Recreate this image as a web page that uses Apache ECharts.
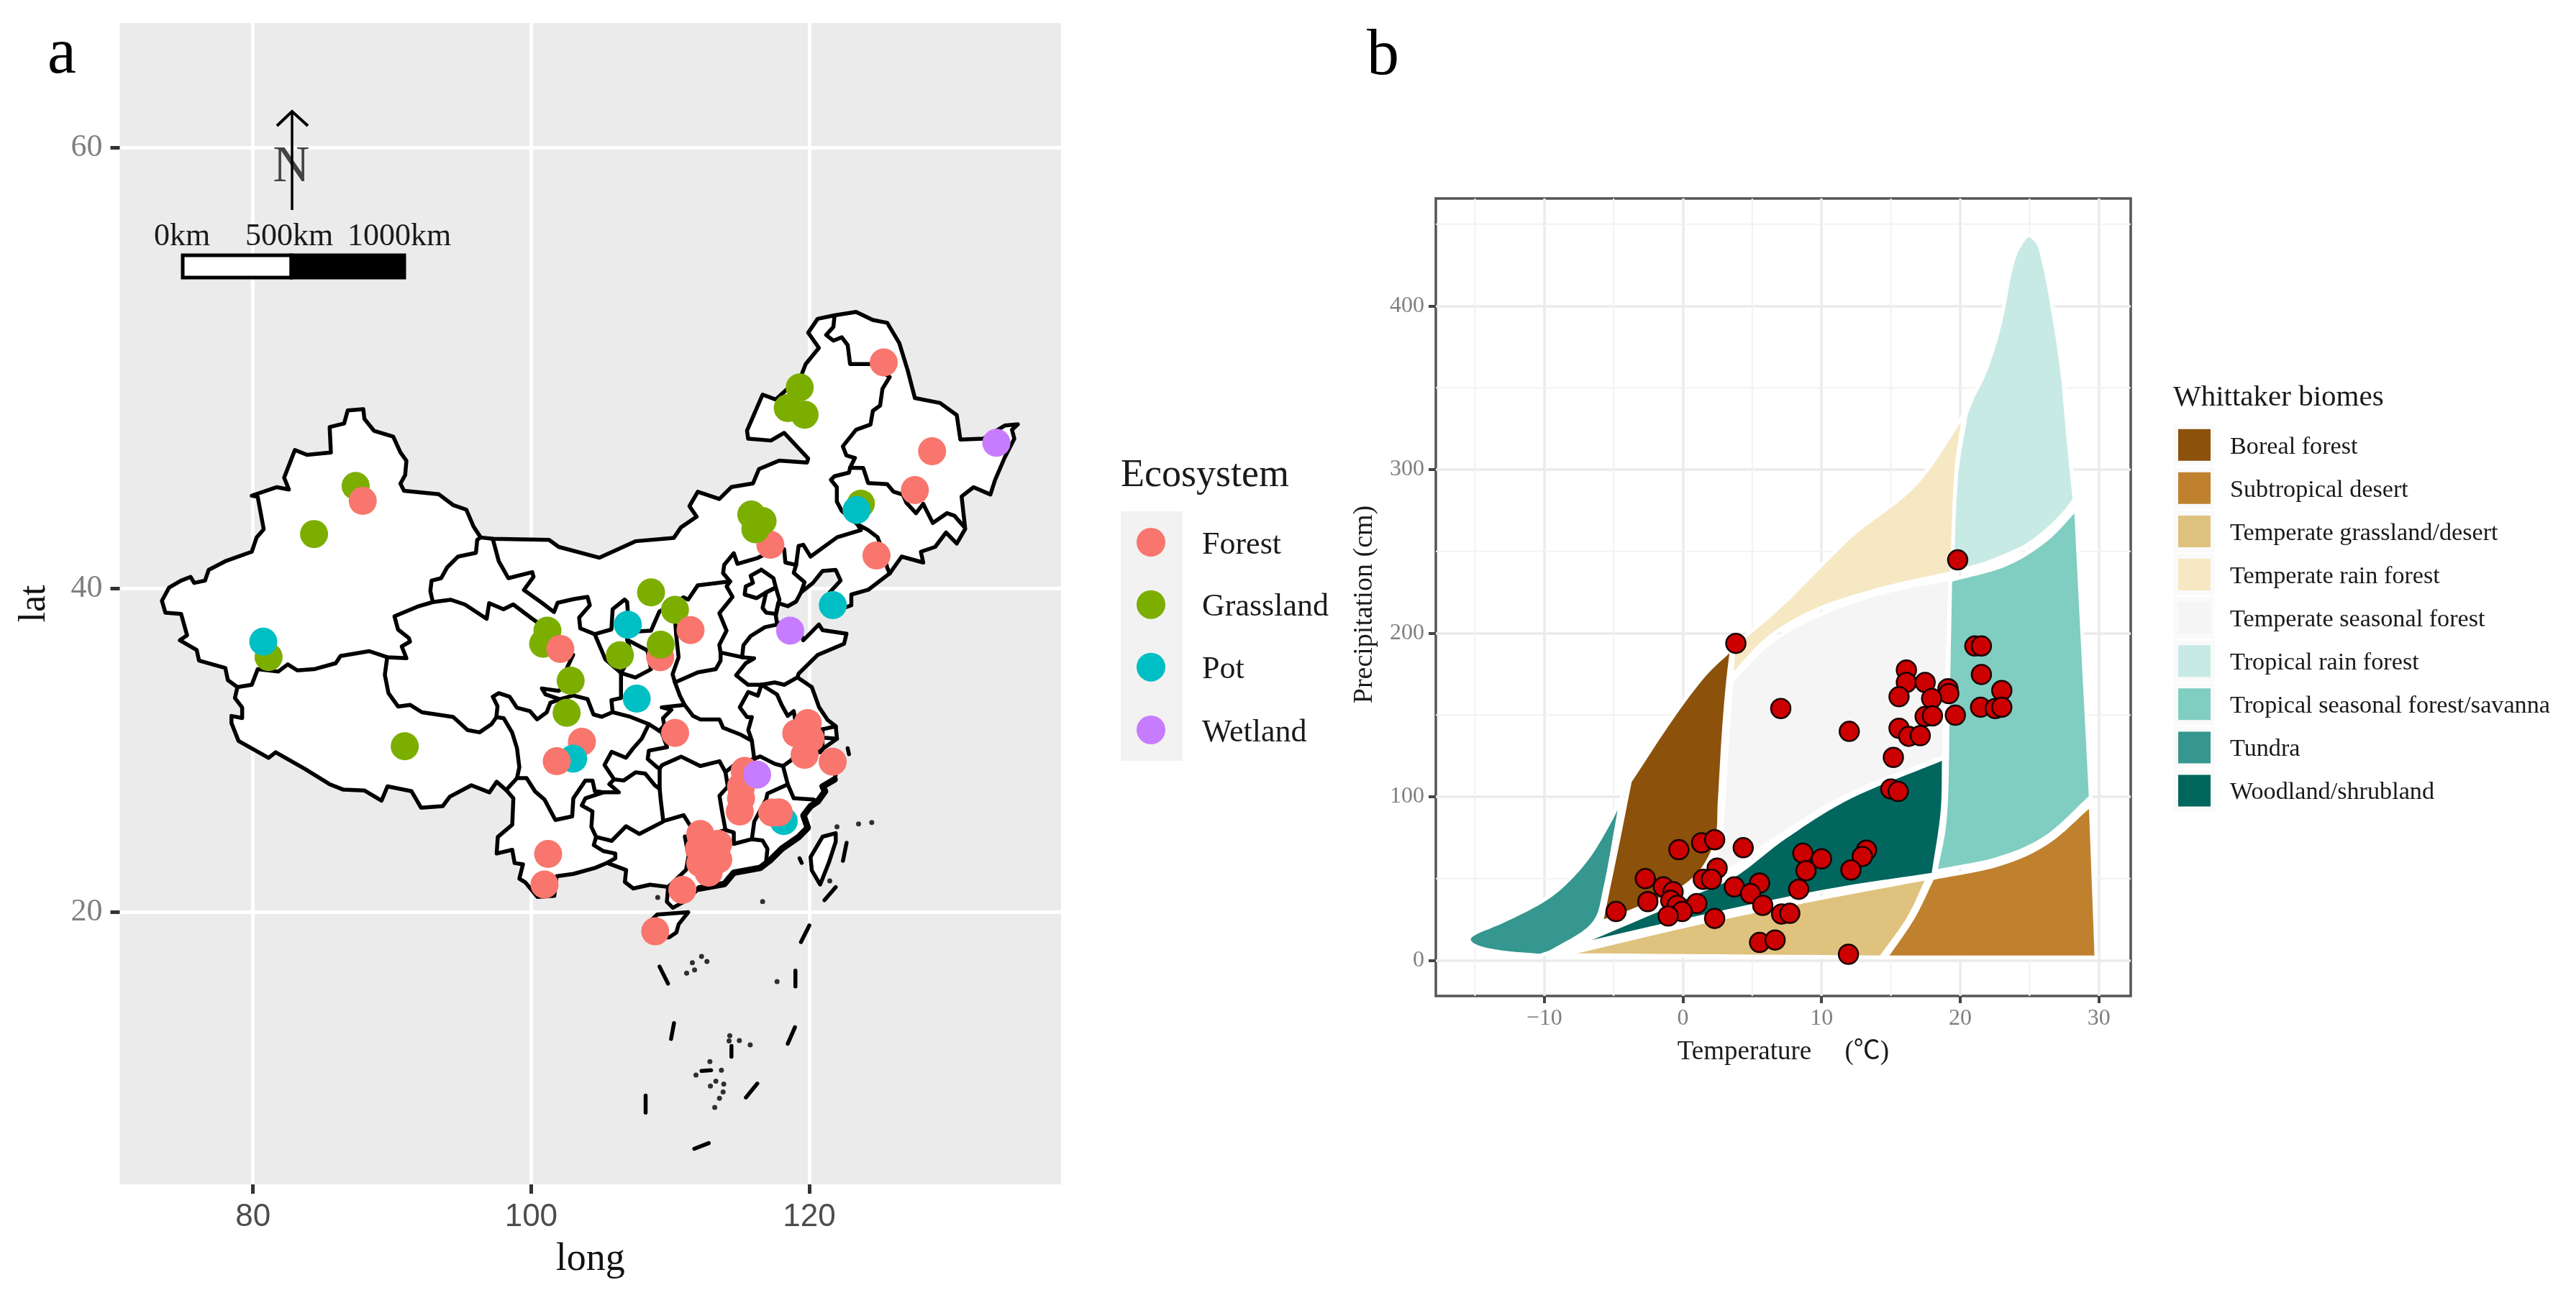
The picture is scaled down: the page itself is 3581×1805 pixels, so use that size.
<!DOCTYPE html>
<html><head><meta charset="utf-8">
<style>html,body{margin:0;padding:0;background:#fff}#c{width:3581px;height:1805px}</style>
<script src="https://cdn.jsdelivr.net/npm/echarts@6/dist/echarts.min.js"></script>
</head><body><div id="c"></div>
<script>
// ---------- Panel a: sites ----------
const ecosystemNames = ['Forest','Grassland','Pot','Wetland'];
const ecosystemColors = ['#F8766D','#7CAE00','#00BFC4','#C77CFF'];
const siteLon = [81.12,80.74,87.38,87.89,84.39,90.91,101.17,100.86,102.1,102.84,102.55,103.65,103.02,101.84,108.62,110.34,111.46,109.28,109.31,106.95,106.38,107.59,110.35,117.2,115.83,116.64,116.12,121.69,119.89,119.06,120.09,119.66,121.68,115.35,115.09,115.09,115,118.16,117.33,117.8,116.25,112.16,113.45,112.07,112.16,113.45,112.76,112.5,112.85,110.87,108.92,101.22,100.96,125.35,119.31,118.45,119.66,128.83,127.59,123.71,123.4,124.83,133.45,118.62];
const siteLat = [36.13,37.02,45.43,44.67,42.95,30.77,37.65,36.9,36.6,34.74,32.82,31.05,30,29.84,39.8,38.83,37.68,36.12,36.84,37.99,36.23,33.67,31.59,42.38,43.97,43.63,43.2,39.09,32.2,31.57,31.25,30.24,29.81,29.24,28.25,27.5,26.65,26.04,26.58,26.6,29,25.2,24.55,24.23,23.29,23.52,22.65,24.55,23.76,21.5,18.7,23.89,21.86,51.33,50.19,49.23,48.92,47.16,45.22,44.53,44.2,41.81,47.57,37.65];
const siteType = [1,2,1,0,1,1,1,1,0,1,1,0,2,0,1,1,0,0,1,2,1,2,0,0,1,1,1,2,0,0,0,0,0,0,0,0,0,2,0,0,3,0,0,0,0,0,0,0,0,0,0,0,0,0,1,1,1,0,0,1,2,0,3,3];

// ---------- Panel a: map (longitude, latitude) ----------
const chinaOutline = [[119.92,52.65],[120.6,53.25],[121.81,53.4],[123.36,53.55],[124.57,53.2],[125.6,53.08],[126.47,52.19],[127.07,50.98],[127.59,49.7],[129.4,49.47],[130.6,48.9],[130.86,47.73],[132.5,47.77],[134.05,48.4],[135,48.46],[134.57,48.2],[134.74,47.77],[134.05,46.85],[133.36,45.74],[133.02,45],[131.81,45.37],[130.95,44.9],[131.21,43.22],[130.6,42.45],[129.83,43.03],[129.05,42.27],[128.02,42.01],[128.19,41.43],[126.64,41.75],[125.78,40.84],[124.23,39.94],[123.02,39.68],[123.02,39.08],[121.73,38.73],[121.47,39.8],[122.25,40.45],[121.9,41.03],[120.95,40.97],[120.26,40.32],[119.4,39.8],[119.05,39.29],[118.45,39.03],[117.76,39.2],[117.59,38.47],[117.67,38.12],[118.3,37.95],[119.2,37.8],[119.57,37.1],[120.69,38],[120.95,37.68],[122.67,37.47],[122.5,36.9],[120.6,36.25],[119.23,35.16],[119.15,34.94],[120.18,34.36],[120.7,33.16],[121.3,32.4],[121.9,32],[121.99,31.24],[121.39,30.87],[120.6,30.4],[122.16,30.35],[121.99,29.4],[121.82,28.7],[120.96,28.25],[121.13,27.95],[120.61,27.3],[120.1,27],[119.58,26.4],[119.89,25.6],[119.23,25],[118.02,24.23],[117.16,23.45],[116.47,22.97],[114.57,22.65],[113.9,21.9],[112.08,21.6],[110.97,20.7],[110.19,20.3],[109.76,20.7],[109.85,21.7],[108.55,21.85],[107.34,21.6],[106.74,22.03],[106.83,22.83],[105.45,23.3],[104.6,22.97],[103.03,22.57],[101.83,22.41],[101.66,21.1],[100.45,21.03],[99.59,22],[99.15,22.25],[99.41,23.2],[98.81,23.29],[98.64,24.16],[97.52,23.92],[97.6,25],[98.64,25.8],[98.72,27.5],[98.2,28.03],[97.52,28.55],[97,27.88],[95.7,28.33],[94.15,27.6],[93.64,27],[92.08,26.9],[91.4,27.95],[89.67,28.26],[89.24,27.35],[88,28],[86.5,28.05],[85.5,28.4],[83.7,29.38],[81.63,30.4],[81.12,30.05],[78.96,31.1],[78.45,32.2],[78.45,32.63],[79.22,32.5],[79.22,33.14],[78.7,33.71],[78.88,34.36],[78.19,34.78],[78.01,35.49],[76.12,35.92],[75.95,36.54],[74.74,37.1],[75.26,37.38],[74.83,38.6],[73.7,38.67],[73.45,39.33],[73.96,40.06],[74.83,40.45],[75.51,40.65],[75.77,40.32],[76.55,40.45],[76.81,41.03],[78.01,41.5],[79.91,42.01],[80.26,42.77],[80.77,43.2],[80.34,44.88],[79.91,44.94],[81.72,45.37],[82.58,45.25],[82.24,45.85],[83.01,47.22],[83.88,46.98],[85.6,47.1],[85.51,48.33],[86.55,48.5],[86.81,49.12],[87.93,49.18],[88.01,48.72],[88.7,48.15],[90.08,47.87],[90.6,47.1],[91.03,46.69],[90.94,45.98],[90.6,45.55],[90.86,45.19],[93.36,45.01],[94.39,44.46],[95.34,44.22],[95.86,43.34],[96.37,42.77],[97.24,42.7],[101.29,42.64],[101.98,42.27],[104.91,41.69],[107.5,42.57],[110.26,42.75],[110.77,43.3],[111.9,43.86],[111.38,44.4],[111.98,45.14],[113.53,44.77],[114.4,45.38],[115.95,45.56],[116.38,46.28],[117.84,46.7],[119.83,46.6],[119.92,46.8],[118.19,48.05],[117.24,47.68],[115.6,47.77],[115.52,48.16],[116.64,49.86],[117.59,49.63],[119.4,50.7],[119.74,51.26],[120.69,51.98]];
const southCoast = [[121.82,28.7],[120.96,28.25],[121.13,27.95],[120.61,27.3],[120.1,27],[119.58,26.4],[119.89,25.6],[119.23,25],[118.02,24.23],[117.16,23.45],[116.47,22.97],[114.57,22.65],[113.9,21.9],[112.08,21.6]];
const provinceLines = [
 [[96.37,42.77],[96.12,42.64],[96.03,41.95],[94.74,41.75],[93.96,41.17],[93.53,40.58],[92.84,40.45],[92.75,39.87],[92.93,39.26],[91.81,39],[90.17,38.46],[90.43,37.71],[91.2,37.23],[91.29,37.02],[90.69,36.75],[91.03,36.06],[89.65,36.12],[88.36,36.47],[86.29,36.19],[85.95,35.77],[84.39,35.42],[83.19,35.35],[82.5,35.7],[81.81,35.28],[80.34,35.42],[79.91,34.5],[78.88,34.36]],
 [[97.24,42.7],[97.67,41.5],[98.36,40.58],[100.08,40.91],[100.17,40.65],[99.48,39.93],[100.77,39.22],[101.64,38.7],[101.9,39.22],[103.02,39.42],[104.05,39.55],[104.22,39.08],[103.45,38.39],[103.53,37.78],[104.57,37.45],[105.77,37.72],[105.86,38.86],[106.72,39.4],[106.9,39.26],[107.02,38],[106.9,37.13],[107.24,36.26],[106.46,35.2],[105.34,35.99],[104.57,37.45]],
 [[92.93,39.26],[94.22,39.39],[95.25,39.12],[96.8,38.32],[96.98,39.2],[98.01,38.86],[98.71,39.13],[100.08,38.32],[101.29,37.65],[102.33,36.4],[103.02,36.26],[102.58,35.5],[102.41,34.42],[101.98,34.14],[100.77,34.28],[101.03,33.93],[102.07,33.64],[101.38,33.42],[101.12,32.85],[100.43,32.42],[99.91,32.92],[98.97,33.13],[98.45,33.79],[97.67,34],[97.24,33.79],[97.58,33.22],[97.5,32.56]],
 [[89.65,36.12],[89.48,35.09],[89.74,34],[90.43,33.2],[91.29,33.3],[92.15,32.85],[94.39,32.57],[95.43,31.77],[96.29,31.63],[97.15,32.13],[97.5,32.56],[98.03,32.49],[98.63,31.62],[98.98,30.66],[99.15,29.47],[98.98,28.78],[98.2,28.03]],
 [[102.07,33.64],[103.02,33.86],[104.05,33.65],[104.48,32.72],[105.08,32.58],[105.86,32.86],[107.15,32.57],[108.46,32.13],[109.22,31.72]],
 [[98.98,28.78],[99.67,28.78],[100.27,27.95],[100.96,27.42],[101.74,26.11],[102.95,26.34],[103.03,27.49],[103.9,28.63],[104.41,28.63],[104.58,27.95],[105.19,27.88],[106.31,27.88],[105.62,28.4],[105.96,28.7]],
 [[108.46,32.13],[107.95,31.24],[107.34,30.65],[106.82,30.06],[105.79,30.43],[105.27,29.61],[105.96,28.7],[106.65,28.63],[107.51,29.15],[108.2,29.07],[108.89,28.33],[109.24,28.1],[109.24,29.38],[109.07,29.46],[108.38,29.98],[108.46,30.5],[109.77,30.72],[109.33,31.76],[109.22,31.72]],
 [[105.19,27.88],[103.9,27.5],[103.64,27.04],[104.41,26.66],[104.33,25.66],[104.67,25],[105.79,24.75],[106.82,25.7],[107.77,25.2],[109.41,25.96],[109.5,26.03],[109.32,27.36],[109.24,28.1]],
 [[104.67,25],[104.5,24.47],[105.19,24.08],[106.05,23.92],[106.05,23.6],[105.45,23.3]],
 [[109.5,26.03],[110.96,26.42],[111.39,25.8],[112,24.9],[111.05,25.03],[111.32,23.77],[111.14,22.84],[109.85,21.7]],
 [[112,24.9],[113.97,25.46],[114.57,25.3],[114.57,24.55],[115.87,24.86],[116.64,24.77],[116.99,24.23],[116.9,23.45],[117.16,23.45]],
 [[109.24,29.38],[109.41,29.6],[110.78,30.13],[112.16,29.54],[113.54,29.84],[113.97,29.16],[114.14,28.25],[113.54,27.66],[113.71,26.73],[113.97,25.46]],
 [[113.97,29.16],[114.6,29.6],[116.04,29.99],[116.47,30.14],[117.51,29.68],[118.11,29.54],[118.45,28.39],[116.99,27.8],[116.9,27.43],[116.04,26],[115.87,24.86]],
 [[118.45,28.39],[118.88,27.5],[120.26,27.43],[120.61,27.3]],
 [[116.56,34.5],[116.3,33.85],[115.61,34.07],[115,33.15],[115.52,32.56],[115.87,32.56],[115.61,31.77],[115.87,31.11],[116.04,29.99]],
 [[116.56,34.5],[117.68,33.92],[118.02,33.28],[118.45,32.63],[118.88,32.92],[119.14,31.63],[119.49,30.95],[118.71,29.91],[118.11,29.54]],
 [[119.49,30.95],[120.95,31.3],[121.99,31.24]],
 [[120.95,31.82],[120.95,30.87]],
 [[120.95,31.82],[121.9,32]],
 [[109.22,31.72],[109.57,32.06],[109.48,32.49],[110.08,33],[109.39,33.15],[111.03,33.3],[111.64,32.63],[112.16,32.42],[113.54,32.42],[113.8,31.91],[115.09,31.48],[115.87,31.11]],
 [[111.03,33.3],[110.69,33.86],[110.34,34.64],[110.17,35.13],[110.6,36.12],[110.43,37.38],[110.34,38.33],[110.95,39.52]],
 [[105.86,32.86],[105.77,33.58],[106.46,33.71],[106.46,35.2],[107.5,34.93],[108.62,35.42],[108.36,36.51],[106.9,37.13]],
 [[107.02,37.58],[108.62,37.65],[109.22,38.73],[110.95,39.52],[111.29,39.4],[111.98,40.19],[114.3,40.4]],
 [[114.3,40.4],[113.8,40.86],[113.88,41.3],[114.57,41.93],[114.83,41.36],[116.3,41.68],[117.16,42.01],[118.19,42.14],[118.28,41.43],[119.05,41.3],[119.23,42.32],[119.57,42.38],[120.09,41.75],[122,42.78],[123.71,43.16],[123.45,43.47],[122.33,44.16],[121.98,44.64],[121.98,45.37],[121.55,45.74],[121.81,45.92],[122.85,46.1],[122.93,46.34],[123.28,46.83],[122.67,46.95],[122.41,47.4],[123.36,48.2],[124.4,48.45],[124.57,49.1],[125.09,49.35],[125.26,50.13],[125.78,50.67],[124.4,51.26],[122.93,51.26],[122.76,52.1],[122.33,52.45],[121.73,52.3],[121.21,52.55],[121.73,52.9],[121.81,53.36]],
 [[122.93,46.34],[123.88,46.33],[124.23,45.58],[125.6,45.52],[126.04,45.15],[126.73,44.99],[126.98,44.58],[127.67,44.04],[128.19,44.52],[128.88,43.53],[129.9,44.04],[130.43,43.91],[131.12,43.34]],
 [[123.45,43.47],[124.23,43.16],[124.91,42.78],[125.35,41.9],[125.6,41.15],[125.78,40.84]],
 [[119.05,41.3],[118.88,40.87],[119.66,40.36],[119.4,39.8]],
 [[114.3,40.4],[114.05,40.13],[114.48,39.55],[113.53,38.64],[114.05,37.65],[113.53,36.83],[113.62,36.39],[113.62,35.92],[113.27,35.42],[111.98,35.23],[110.34,34.64]],
 [[116.55,41.04],[117.42,40.58],[117.59,40.07],[116.9,39.8],[116.21,39.48],[115.35,39.68],[115.43,40.13],[115.95,40.32],[115.78,40.71],[116.55,41.04]],
 [[116.9,39.8],[117.59,40.07],[117.85,39.4],[117.59,38.6],[116.9,38.67],[116.64,38.93],[116.9,39.8]],
 [[113.62,36.39],[115.17,36.12],[115.26,36.81],[115.78,37.34],[116.81,37.85],[117.67,37.99],[117.67,38.12]],
 [[115.17,36.12],[116.03,36.05],[115.43,35.77],[114.74,35.06],[115.6,34.5],[116.56,34.5]],
 [[116.56,34.5],[117.51,34.64],[118.2,34.5],[119.15,34.94]]
];
const hainanIsland = [[109.06,19.84],[111.3,20],[110.61,19.19],[110.44,18.62],[109.92,18.29],[108.89,18.29],[108.11,18.95]];
const taiwanIsland = [[120.95,25.02],[121.9,25.25],[121.9,24.7],[121.39,23.28],[120.78,21.86],[120.18,22.8],[120.09,23.68]];
const islandDashes = [
 [[122.68,24.62],[122.42,23.44]],[[121.9,21.69],[121.09,20.81]],[[120,19.1],[119.4,17.97]],[[119,16],[119,14.9]],
 [[118.97,12.05],[118.45,10.88]],[[116.26,8.05],[115.44,7.06]],[[112.77,3.79],[111.73,3.38]],[[108.23,7.2],[108.23,5.97]],
 [[110.27,12.34],[110.06,11.22]],[[109.23,16.28],[109.84,15.1]],[[114.4,10.72],[114.4,9.96]],[[112.25,8.95],[112.94,9]],
 [[122.76,30.65],[122.85,30.28]],[[119.3,23.6],[119.45,23.3]]
];
const islandDots = [[121.99,25.66],[123.54,25.85],[124.49,25.95],[121.47,22.1],[116.64,20.72],[117.68,15.24],[112.25,16.98],[112.64,16.64],[111.59,16.55],[111.75,16.05],[111.18,15.82],[114.28,11.45],[114.23,11.08],[114.97,11.1],[115.75,10.8],[112.85,9.62],[111.85,8.66],[113.68,9],[113.28,8.22],[112.89,7.88],[113.85,8.02],[113.8,7.45],[113.54,7],[113.2,6.35],[109.1,21]];
const longTicks = [80,100,120];
const latTicks = [20,40,60];

// ---------- Panel b: biomes (temperature degC, precipitation cm) ----------
const biomeNames = ['Boreal forest','Subtropical desert','Temperate grassland/desert','Temperate rain forest','Temperate seasonal forest','Tropical rain forest','Tropical seasonal forest/savanna','Tundra','Woodland/shrubland'];
const biomeColors = ['#8C510A','#BF812D','#DFC27D','#F6E8C3','#F5F5F5','#C7EAE5','#80CDC1','#35978F','#01665E'];
const borealForest = [[3.53,190.7],[1.47,173.7],[-0.88,147.2],[-3.82,109.4],[-4.71,71.5],[-5.88,23.5],[-3.24,31.8],[-0.29,43.1],[1.47,56.4],[2.47,75.3],[2.65,98],[2.94,139.6],[3.24,169.9]];
const subtropicalDesert = [[18,50.3],[22.65,58.3],[26.18,71.5],[29.41,95],[29.82,1.9],[14.65,1.9],[16.59,26.1]];
const temperateGrassland = [[-8.65,3.4],[1.47,23.5],[10.29,38.6],[17.65,50.3],[16.29,26.1],[14.29,1.9]];
const temperateRainForest = [[3.65,191.9],[7.35,219.1],[12.06,258.8],[16.76,291],[20.29,333.8],[19.71,298.6],[19.41,236.9],[14.41,227.4],[9.71,214.6],[6.18,197.2],[3.53,173.7]];
const temperateSeasonal = [[19.29,233.1],[14.41,224.8],[9.71,210.8],[6.18,193.4],[3.53,170.7],[3.24,139.6],[2.94,98],[2.65,73.4],[1.76,54.5],[0.29,45],[3.53,56.4],[7.35,78.3],[12.06,101.8],[18.82,124.5]];
const tropicalRainForest = [[20.88,344],[21.35,351.6],[21.76,359.1],[22.24,370.5],[22.65,381.8],[23.12,398.9],[23.53,417.8],[23.94,431],[24.41,438.6],[24.76,442.4],[25,443.1],[25.29,441.6],[25.71,436.7],[26.06,425.4],[26.47,408.3],[26.76,393.2],[27.06,378],[27.41,355.3],[27.65,332.6],[27.94,306.2],[28.24,281.6],[27.35,272.1],[26.18,262.6],[24.82,253.9],[23.24,247.5],[21.47,241.8],[19.41,237.3],[19.71,294.8],[20.41,333.8]];
const tropicalSavanna = [[19.29,232.4],[23.24,241.8],[26.18,257],[28.35,275.9],[28.82,196.4],[29.41,99.9],[26.18,75.3],[22.65,62.1],[18.24,54.5],[18.94,90.4],[19.12,158.6]];
const tundra = [[-4.41,99.9],[-5.29,84.8],[-6.76,64],[-8.53,46.9],[-10.29,35.6],[-12.94,24.2],[-15,16.7],[-15.41,12.1],[-14.7,7.9],[-12.94,4.9],[-10.29,3],[-9.12,7.2],[-6.47,22.3],[-5.59,45]];
const woodlandShrubland = [[18.82,123.7],[12.06,99.9],[7.35,75.3],[3.82,52.6],[0.88,41.2],[-2.06,29.9],[-7.94,8.7],[1.47,26.9],[10.29,42.4],[18.06,52.6],[18.71,90.4]];
const biomePolygons = [borealForest,subtropicalDesert,temperateGrassland,temperateRainForest,temperateSeasonal,tropicalRainForest,tropicalSavanna,tundra,woodlandShrubland];
// vertices of each polygon that are sharp corners; the outline is a smooth curve between them
const biomeCorners = [[0,3,5],[0,3,4,5],[0,3,5],[0,4,6,10],[0,4,9,13],[0,20,26,28],[0,3,5,8],[0,10],[0,6,9]];

const siteTemperature = [19.82,3.82,21.06,21.53,21.53,16.12,16.12,17.47,19.12,19.18,15.59,17.94,23,21.47,22.53,23,7.06,17.47,18,19.65,12,15.59,16.29,17.12,15.18,15,15.53,1.35,2.29,-0.29,4.35,2.47,1.47,2.06,8.65,10,8.88,13.24,12.94,12.12,5.53,3.71,4.88,8.35,5.76,-2.71,-1.41,-0.71,-0.88,-2.53,-0.41,1,-0.06,-1.06,-4.82,2.29,7.12,7.71,5.53,6.65,11.94];
const sitePrecipitation = [244.8,193.8,192.2,192.2,174.8,177.5,169.9,169.9,166.1,163.1,161.2,160.1,165,154.8,154,154.8,154,149.1,149.5,149.9,140,141.9,137,137.4,124.1,104.8,103.3,71.9,73.8,67.7,68.9,56.4,49.6,49.6,65.5,62.1,54.9,67.4,63.6,55.3,47.3,45,40.9,43.5,33.7,50,45,42,36.7,36,33.7,34.8,29.9,27.2,29.9,25.7,28.4,28.8,11,12.5,3.8];
const tempTicks = [-10,0,10,20,30];
const precipTicks = [0,100,200,300,400];
const tempMinor = [-15,-5,5,15,25];
const precipMinor = [50,150,250,350,450];

const serif = '"Liberation Serif","Noto Sans CJK SC",serif';
const merc = lat => Math.log(Math.tan(Math.PI/4 + lat*Math.PI/360));
const invMerc = m => (2*Math.atan(Math.exp(m)) - Math.PI/2)*180/Math.PI;
const P = p => [p[0], merc(p[1])];

function shapeSeries(list, gridIdx, style, isPoly, project, z){
  return {type:'custom', coordinateSystem:'cartesian2d', xAxisIndex:gridIdx, yAxisIndex:gridIdx, z, clip:false, silent:true,
    data:list.map((_,i)=>[list[i][0][0], project(list[i][0])[1]]),
    renderItem(params,api){
      const pts=list[params.dataIndex].map(p=>api.coord(project(p)));
      return {type:isPoly?'polygon':'polyline', shape:{points:pts}, style:Object.assign({lineJoin:'round',lineCap:'round'},style,isPoly?{}:{fill:null})};
    }};
}
// smooth closed outline that stays sharp at the listed corner vertices
function smoothRing(pts, corners){
  const out=[], n=pts.length, m=corners.length;
  for(let k=0;k<m;k++){
    const seg=[]; let i=corners[k]; const end=corners[(k+1)%m];
    seg.push(pts[i]);
    do { i=(i+1)%n; seg.push(pts[i]); } while(i!==end);
    for(let j=0;j<seg.length-1;j++){
      const p1=seg[j],p2=seg[j+1];
      const p0=seg[j-1]||[2*p1[0]-p2[0],2*p1[1]-p2[1]];
      const p3=seg[j+2]||[2*p2[0]-p1[0],2*p2[1]-p1[1]];
      for(let s=0;s<10;s++){
        const t=s/10,t2=t*t,t3=t2*t;
        out.push([0,1].map(d=>0.5*(2*p1[d]+(p2[d]-p0[d])*t+(2*p0[d]-5*p1[d]+4*p2[d]-p3[d])*t2+(3*p1[d]-p0[d]-3*p2[d]+p3[d])*t3)));
      }
    }
  }
  return out;
}
function minorGrid(values, vertical){
  return {type:'custom', coordinateSystem:'cartesian2d', xAxisIndex:1, yAxisIndex:1, z:1, silent:true, clip:true,
    data:values.map(v=>vertical?[v,0]:[0,v]),
    renderItem(params,api){
      const c=params.coordSys, v=values[params.dataIndex];
      const pt=vertical?api.coord([v,0]):api.coord([0,v]);
      const sh=vertical?{x1:pt[0],y1:c.y,x2:pt[0],y2:c.y+c.height}:{x1:c.x,y1:pt[1],x2:c.x+c.width,y2:pt[1]};
      return {type:'line',shape:sh,style:{stroke:'#f2f2f2',lineWidth:2}};
    }};
}
const T=(text,x,y,size,o={})=>({type:'text',z:50,style:Object.assign({text,x,y,font:size+'px '+serif,fill:'#1a1a1a',align:'left',verticalAlign:'middle'},o)});

const graphic=[
  T('a',66,122,90,{verticalAlign:'bottom',fill:'#000',lineHeight:90}),
  T('b',1900,124,90,{verticalAlign:'bottom',fill:'#000',lineHeight:90}),
  // north arrow
  T('N',405,233,71,{align:'center',fill:'#444'}),
  {type:'polyline',z:51,shape:{points:[[406,292],[406,156]]},style:{stroke:'#000',lineWidth:3.5,fill:null}},
  {type:'polyline',z:51,shape:{points:[[385,175],[406,155],[428,175]]},style:{stroke:'#000',lineWidth:4,fill:null}},
  // scale bar
  T('0km',253,329,44,{align:'center'}),T('500km',402,329,44,{align:'center'}),T('1000km',555,329,44,{align:'center'}),
  {type:'rect',z:50,shape:{x:254,y:355,width:151,height:31},style:{fill:'#fff',stroke:'#000',lineWidth:5}},
  {type:'rect',z:50,shape:{x:405,y:355,width:157,height:31},style:{fill:'#000',stroke:'#000',lineWidth:5}},
  // legend a
  T('Ecosystem',1558,662,54),
  {type:'rect',z:49,shape:{x:1558,y:711,width:86,height:347},style:{fill:'#f2f2f2'}}
];
ecosystemNames.forEach((n,i)=>{
  const y=[754,840.7,927.7,1015][i];
  graphic.push({type:'circle',z:50,shape:{cx:1600,cy:y,r:20},style:{fill:ecosystemColors[i]}});
  graphic.push(T(n,1671,y+4,44));
});
graphic.push(T('Whittaker biomes',3021,553,41));
biomeNames.forEach((n,i)=>{
  const y=618.7+60.1*i;
  graphic.push({type:'rect',z:49,shape:{x:3021,y:y-29,width:58,height:58},style:{fill:'#fafafa'}});
  graphic.push({type:'rect',z:50,shape:{x:3028,y:y-22,width:45,height:44},style:{fill:biomeColors[i]}});
  graphic.push(T(n,3100,y+3,34.2));
});

const option={
  backgroundColor:'#fff',animation:false,
  textStyle:{fontFamily:serif},
  graphic,
  grid:[
    {left:166.5,top:32,width:1308.5,height:1615,show:true,backgroundColor:'#ebebeb',borderWidth:0},
    {left:1996,top:276,width:966,height:1109,show:true,backgroundColor:'#fff',borderColor:'#555',borderWidth:3.5}
  ],
  xAxis:[
    {gridIndex:0,type:'value',min:70.42,max:138.1,name:'long',nameLocation:'middle',nameGap:78,
     nameTextStyle:{fontFamily:serif,fontSize:54,color:'#111'},
     axisLine:{show:false,onZero:false},
     axisTick:{show:true,length:13,customValues:longTicks,lineStyle:{color:'#333',width:5}},
     axisLabel:{customValues:longTicks,margin:24,fontFamily:'"Liberation Sans",sans-serif',fontSize:44,color:'#4d4d4d'},
     splitLine:{show:true,lineStyle:{color:'#fff',width:5}}},
    {gridIndex:1,type:'value',min:-17.82,max:32.3,name:'Temperature     (℃)',nameLocation:'middle',nameGap:60,
     nameTextStyle:{fontFamily:serif,fontSize:37,color:'#1a1a1a'},
     axisLine:{show:false,onZero:false},
     axisTick:{show:true,length:10,customValues:tempTicks,lineStyle:{color:'#444',width:4}},
     axisLabel:{customValues:tempTicks,margin:16,fontSize:32,color:'#7f7f7f',fontFamily:serif,formatter:v=>String(v).replace('-','\u2212')},
     splitLine:{show:true,lineStyle:{color:'#ebebeb',width:3.5}}}
  ],
  yAxis:[
    {gridIndex:0,type:'value',min:merc(0.82),max:merc(64.2),name:'lat',nameLocation:'middle',nameGap:92,
     nameTextStyle:{fontFamily:serif,fontSize:52,color:'#111'},
     axisLine:{show:false,onZero:false},
     axisTick:{show:true,length:13,customValues:latTicks.map(merc),lineStyle:{color:'#333',width:5}},
     axisLabel:{customValues:latTicks.map(merc),margin:24,fontSize:44,color:'#7f7f7f',fontFamily:serif,formatter:v=>String(Math.round(invMerc(v)))},
     splitLine:{show:true,lineStyle:{color:'#fff',width:5}}},
    {gridIndex:1,type:'value',min:-21.7,max:465.7,name:'Precipitation (cm)',nameLocation:'middle',nameGap:80,
     nameTextStyle:{fontFamily:serif,fontSize:38,color:'#1a1a1a',padding:[0,20,0,0]},
     axisLine:{show:false,onZero:false},
     axisTick:{show:true,length:10,customValues:precipTicks,lineStyle:{color:'#444',width:4}},
     axisLabel:{customValues:precipTicks,margin:16,fontSize:32,color:'#7f7f7f',fontFamily:serif},
     splitLine:{show:true,lineStyle:{color:'#ebebeb',width:3.5}}}
  ],
  series:[
    shapeSeries([chinaOutline,hainanIsland,taiwanIsland],0,{fill:'#fff',stroke:'#000',lineWidth:5.5},true,P,2),
    shapeSeries(provinceLines,0,{stroke:'#000',lineWidth:5.5},false,P,3),
    shapeSeries([southCoast],0,{stroke:'#000',lineWidth:9},false,P,3),
    shapeSeries(islandDashes,0,{stroke:'#000',lineWidth:5.5},false,P,3),
    {type:'scatter',xAxisIndex:0,yAxisIndex:0,z:3,silent:true,symbolSize:7,itemStyle:{color:'#000'},data:islandDots.map(P)},
    {type:'scatter',xAxisIndex:0,yAxisIndex:0,z:4,silent:true,symbolSize:39,
     data:siteLon.map((x,i)=>({value:[x,merc(siteLat[i])],itemStyle:{color:ecosystemColors[siteType[i]],opacity:1}}))},
    minorGrid(tempMinor,true),minorGrid(precipMinor,false),
    {type:'custom',coordinateSystem:'cartesian2d',xAxisIndex:1,yAxisIndex:1,z:2,clip:false,silent:true,
     data:biomePolygons.map(b=>b[0]),
     renderItem(params,api){
       const i=params.dataIndex;
       const pts=smoothRing(biomePolygons[i].map(p=>api.coord(p)),biomeCorners[i]);
       return {type:'polygon',shape:{points:pts},style:{fill:biomeColors[i],stroke:'#fff',lineWidth:5,lineJoin:'round'}};
     }},
    {type:'scatter',xAxisIndex:1,yAxisIndex:1,z:4,silent:true,symbolSize:27,
     itemStyle:{color:'#cc0000',borderColor:'#1a0000',borderWidth:2.5,opacity:1},
     data:siteTemperature.map((x,i)=>[x,sitePrecipitation[i]])}
  ]
};
const chart=echarts.init(document.getElementById('c'),null,{width:3581,height:1805});
chart.setOption(option);
</script></body></html>
